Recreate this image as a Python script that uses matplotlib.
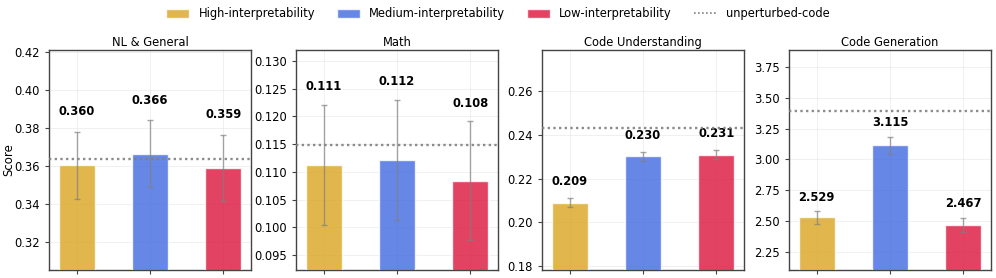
"""
plot.py
-------
Score by interpretability level across four task groups, with the
unperturbed-code baseline drawn as a dotted line.
"""

import matplotlib
matplotlib.use("Agg")
import matplotlib.pyplot as plt
import matplotlib.ticker as mticker
from matplotlib.patches import Patch
from matplotlib.lines import Line2D
import numpy as np

# ── Data ──────────────────────────────────────────────────────────────────────
CATEGORIES = ["NL & General", "Math", "Code Understanding", "Code Generation"]
LEVELS = ["High-interpretability", "Medium-interpretability", "Low-interpretability"]

HIGH       = [0.3603, 0.1113, 0.2088, 2.529]
MEDIUM     = [0.3663, 0.1122, 0.2303, 3.115]
LOW        = [0.3588, 0.1084, 0.2310, 2.467]
HIGH_ERR   = [0.0177, 0.0108, 0.0021, 0.051]
MEDIUM_ERR = [0.0177, 0.0108, 0.0021, 0.070]
LOW_ERR    = [0.0176, 0.0107, 0.0021, 0.059]
BASELINE   = [0.3635, 0.1149, 0.2434, 3.391]

# ── Style ─────────────────────────────────────────────────────────────────────
COLORS = ["goldenrod", "royalblue", "crimson"]
YLIMS = [(0.305, 0.421), (0.0923, 0.132), (0.178, 0.279), (2.10, 3.89)]
YSTEPS = [0.02, 0.005, 0.02, 0.25]
YFMT = ["{:.2f}", "{:.3f}", "{:.2f}", "{:.2f}"]
LABEL_OFFSET_PT = [14.4, 13.2, 11.8, 9.9]
LEFTS_PX = [49, 296, 542, 789]
W, H = 996, 278
# ─────────────────────────────────────────────────────────────────────────────

plt.rcParams["font.family"] = "DejaVu Sans"
fig = plt.figure(figsize=(W / 100, H / 100), dpi=100)

x = np.arange(len(LEVELS))
series = list(zip(HIGH, MEDIUM, LOW))
errs = list(zip(HIGH_ERR, MEDIUM_ERR, LOW_ERR))

for i, cat in enumerate(CATEGORIES):
    ax = fig.add_axes([LEFTS_PX[i] / W, 1 - 270 / H, 202 / W, 220 / H])
    vals = series[i]
    err = errs[i]
    ax.bar(x, vals, 0.5, color=COLORS, alpha=0.8, edgecolor="white",
           linewidth=1.0, zorder=3)
    ax.errorbar(x, vals, yerr=err, fmt="none", ecolor="gray", alpha=0.7,
                elinewidth=1.0, capsize=2, capthick=1.0, zorder=4)
    ax.axhline(BASELINE[i], color="gray", linestyle=(0, (1, 1.4)),
               linewidth=1.7, alpha=0.9, zorder=5)

    for xi, v, e in zip(x, vals, err):
        ax.annotate(f"{v:.3f}", (xi, v + e), xytext=(0, LABEL_OFFSET_PT[i]),
                    textcoords="offset points", ha="center", va="center",
                    fontsize=8.3, fontweight="bold", color="black")

    ax.set_xlim(-0.38, 2.38)
    ax.set_ylim(*YLIMS[i])
    ax.yaxis.set_major_locator(mticker.MultipleLocator(YSTEPS[i]))
    fmt = YFMT[i]
    ax.yaxis.set_major_formatter(mticker.FuncFormatter(lambda v, _, f=fmt: f.format(v)))
    ax.set_xticks(x)
    ax.set_xticklabels([""] * len(x))
    ax.tick_params(labelsize=8.3, length=3, width=0.8, color="#444444")
    ax.grid(True, color="#dddddd", linewidth=0.6, alpha=0.5, zorder=0)
    for spine in ax.spines.values():
        spine.set_color("#444444")
        spine.set_linewidth(1.0)
    ax.set_title(cat, fontsize=8.3, pad=3)
    if i == 0:
        ax.set_ylabel("Score", fontsize=8.5)
        ax.yaxis.set_label_coords(-0.165, 0.5)

handles = [Patch(facecolor=c, alpha=0.8, edgecolor="white") for c in COLORS]
handles.append(Line2D([0], [0], color="gray", linestyle=(0, (1, 1.4)), linewidth=1.2))
fig.legend(handles, LEVELS + ["unperturbed-code"], loc="center",
           bbox_to_anchor=(0.5, 1 - 14 / H), ncol=4, frameon=False, fontsize=8.3,
           handlelength=2.0, handletextpad=0.8, columnspacing=1.9)

fig.savefig("out.png", dpi=100)
plt.close(fig)
